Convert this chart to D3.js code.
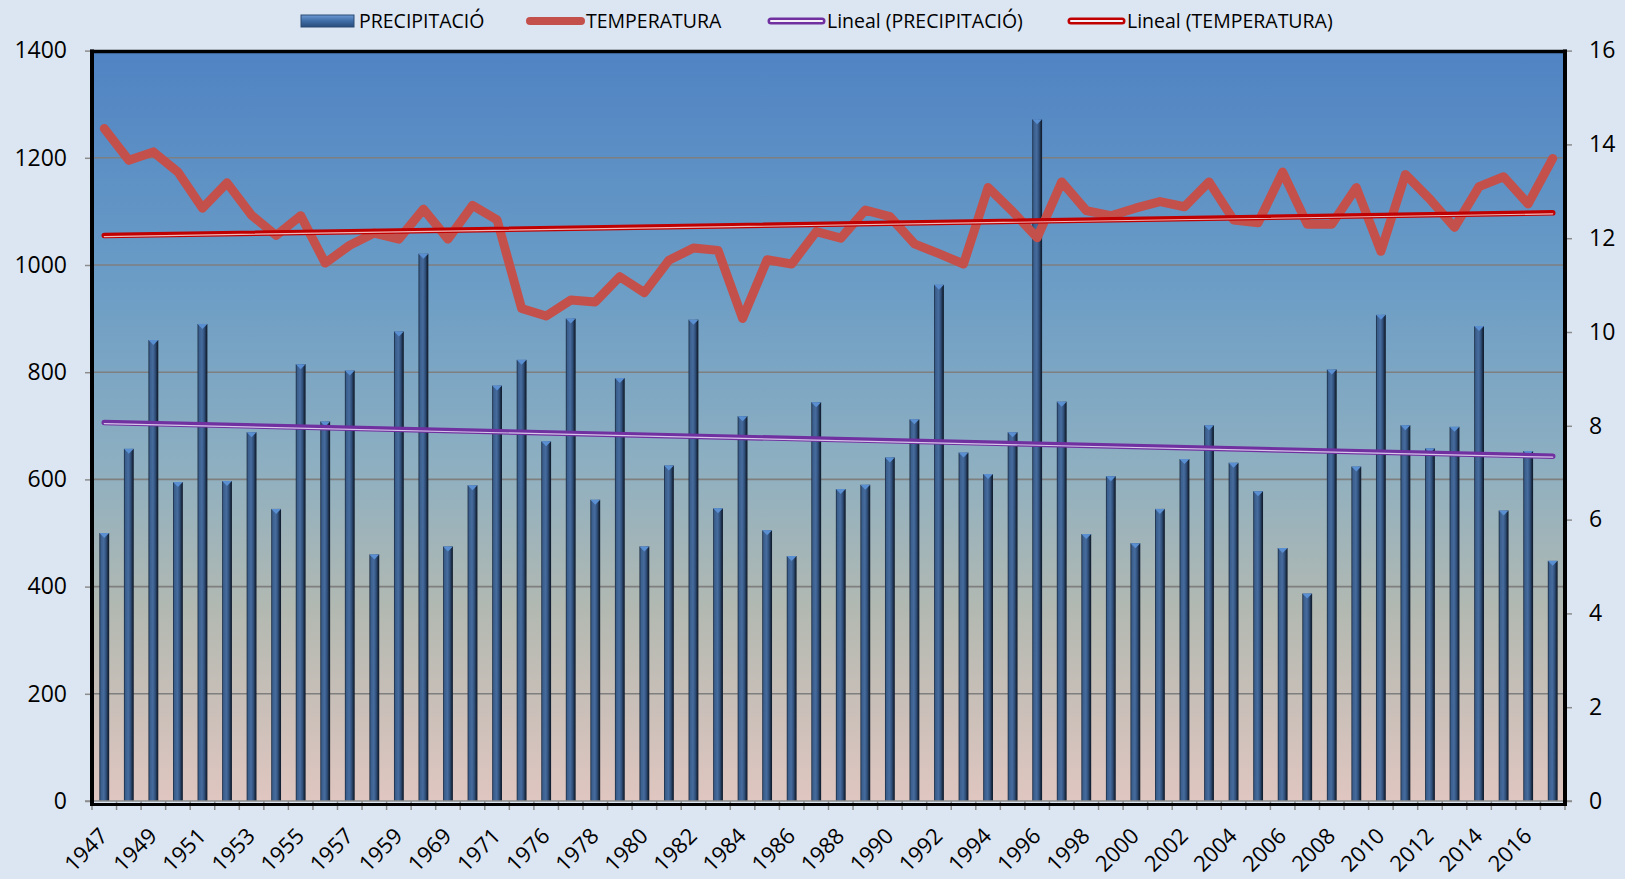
<!DOCTYPE html>
<html>
<head>
<meta charset="utf-8">
<script src="https://cdnjs.cloudflare.com/ajax/libs/d3/7.8.5/d3.min.js"></script>
<style>
  html, body { margin: 0; padding: 0; background: #dce6f2; }
  svg { display: block; font-family: "Open Sans", "DejaVu Sans", sans-serif; }
</style>
</head>
<body>
<div id="chart"></div>
<script>
// --- data ---
const years = [
  "1947","1948","1949","1950","1951","1952","1953","1954","1955","1956",
  "1957","1958","1959","1960","1969","1970","1971","1975","1976","1977",
  "1978","1979","1980","1981","1982","1983","1984","1985","1986","1987",
  "1988","1989","1990","1991","1992","1993","1994","1995","1996","1997",
  "1998","1999","2000","2001","2002","2003","2004","2005","2006","2007",
  "2008","2009","2010","2011","2012","2013","2014","2015","2016","2017"
];

const precipitacio = [
  500, 657, 860, 595, 890, 597, 688, 545, 815, 708,
  803, 460, 876, 1021, 475, 589, 775, 823, 671, 900,
  562, 789, 475, 626, 898, 546, 718, 505, 457, 744,
  582, 590, 641, 712, 963, 650, 610, 688, 1272, 745,
  498, 606, 481, 545, 638, 701, 631, 578, 472, 387,
  805, 624, 907, 701, 658, 698, 886, 542, 653, 448
];

const temperatura = [
  14.34, 13.66, 13.84, 13.41, 12.64, 13.18, 12.49, 12.06, 12.48, 11.47,
  11.85, 12.11, 11.98, 12.62, 11.98, 12.70, 12.39, 10.50, 10.34, 10.68,
  10.64, 11.18, 10.84, 11.53, 11.79, 11.74, 10.29, 11.54, 11.45, 12.14,
  12.00, 12.60, 12.46, 11.88, 11.67, 11.45, 13.08, 12.57, 12.01, 13.20,
  12.59, 12.48, 12.64, 12.78, 12.67, 13.20, 12.39, 12.33, 13.41, 12.30,
  12.30, 13.08, 11.72, 13.36, 12.83, 12.23, 13.10, 13.31, 12.73, 13.70
];

const leftTicks = [0, 200, 400, 600, 800, 1000, 1200, 1400];
const rightTicks = [0, 2, 4, 6, 8, 10, 12, 14, 16];
const legendNames = ["PRECIPITACIÓ", "TEMPERATURA", "Lineal (PRECIPITACIÓ)", "Lineal (TEMPERATURA)"];

// --- layout ---
const W = 1625, H = 879;
const plot = { left: 92, right: 1565, top: 50.6, bottom: 801 };

// least squares trend, like the Excel "Lineal" trendline
function linearFit(values) {
  const n = values.length;
  const xs = d3.range(n);
  const mx = d3.mean(xs), my = d3.mean(values);
  let sxy = 0, sxx = 0;
  xs.forEach((x, i) => { sxy += (x - mx) * (values[i] - my); sxx += (x - mx) * (x - mx); });
  const b = sxy / sxx, a = my - b * mx;
  return [0, n - 1].map(i => ({ i, v: a + b * i }));
}

function drawChart() {
  const svg = d3.select("#chart").append("svg")
    .attr("width", W).attr("height", H)
    .style("background", "#dce6f2");

  const defs = svg.append("defs");
  const bg = defs.append("linearGradient").attr("id", "plotBg")
    .attr("x1", 0).attr("y1", 0).attr("x2", 0).attr("y2", 1);
  [[0, "#4f83c3"], [0.3, "#6a9cc6"], [0.55, "#8dafc1"], [0.75, "#b3b9b1"], [1, "#e0c6c0"]]
    .forEach(([o, c]) => bg.append("stop").attr("offset", o).attr("stop-color", c));

  const barGrad = defs.append("linearGradient").attr("id", "barGrad")
    .attr("x1", 0).attr("y1", 0).attr("x2", 1).attr("y2", 0);
  [[0, "#16253a"], [0.15, "#3a5e8c"], [0.45, "#466c9e"], [0.7, "#2f4e78"], [0.85, "#1c2e47"], [1, "#0e1828"]]
    .forEach(([o, c]) => barGrad.append("stop").attr("offset", o).attr("stop-color", c));

  const legGrad = defs.append("linearGradient").attr("id", "legGrad")
    .attr("x1", 0).attr("y1", 0).attr("x2", 0).attr("y2", 1);
  [[0, "#6d9ad3"], [0.5, "#3f6da6"], [1, "#2a4c7a"]]
    .forEach(([o, c]) => legGrad.append("stop").attr("offset", o).attr("stop-color", c));

  // scales
  const x = d3.scaleBand().domain(years)
    .range([plot.left, plot.right]).paddingInner(0.6).paddingOuter(0.3);
  const xc = i => x(years[i]) + x.bandwidth() / 2;
  const yL = d3.scaleLinear().domain([0, 1400]).range([plot.bottom, plot.top]);
  const yR = d3.scaleLinear().domain([0, 16]).range([plot.bottom, plot.top]);

  // plot background
  svg.append("rect")
    .attr("x", plot.left).attr("y", plot.top)
    .attr("width", plot.right - plot.left).attr("height", plot.bottom - plot.top)
    .attr("fill", "url(#plotBg)");

  // gridlines
  svg.append("g").selectAll("line").data(leftTicks.slice(1, -1)).join("line")
    .attr("x1", plot.left).attr("x2", plot.right)
    .attr("y1", d => yL(d)).attr("y2", d => yL(d))
    .attr("stroke", "#7f7f7f").attr("stroke-width", 1.6);

  // bars
  const bars = svg.append("g");
  bars.selectAll("rect").data(precipitacio).join("rect")
    .attr("x", (d, i) => x(years[i]))
    .attr("y", d => yL(d))
    .attr("width", x.bandwidth())
    .attr("height", d => yL(0) - yL(d))
    .attr("fill", "url(#barGrad)");
  bars.selectAll("polygon").data(precipitacio).join("polygon")
    .attr("points", (d, i) => {
      const l = x(years[i]), r = l + x.bandwidth(), t = yL(d);
      return `${l},${t} ${r},${t} ${(l + r) / 2},${t + 5}`;
    })
    .attr("fill", "#5a8fd2");

  // temperature line
  const tLine = d3.line().x((d, i) => xc(i)).y(d => yR(d));
  svg.append("path").datum(temperatura)
    .attr("d", tLine)
    .attr("fill", "none")
    .attr("stroke", "#c4504c")
    .attr("stroke-width", 9)
    .attr("stroke-linejoin", "round")
    .attr("stroke-linecap", "round");

  // trend lines (double line look)
  const trendLine = scale => d3.line().x(d => xc(d.i)).y(d => scale(d.v));
  const pTrend = linearFit(precipitacio);
  const tTrend = linearFit(temperatura);
  [[pTrend, yL, "#7030a0", "#d7c6ea"], [tTrend, yR, "#c00000", "#f2b8b8"]].forEach(([pts, sc, col, inner]) => {
    svg.append("path").datum(pts).attr("d", trendLine(sc))
      .attr("fill", "none").attr("stroke", col).attr("stroke-width", 5.5)
      .attr("stroke-linecap", "round");
    svg.append("path").datum(pts).attr("d", trendLine(sc))
      .attr("transform", "translate(0,1)")
      .attr("fill", "none").attr("stroke", inner).attr("stroke-width", 1.2)
      .attr("stroke-linecap", "round");
  });

  // left axis
  const axL = svg.append("g").attr("transform", `translate(${plot.left},0)`)
    .call(d3.axisLeft(yL).tickValues(leftTicks).tickFormat(d3.format("d")).tickSize(7).tickPadding(18));
  axL.select(".domain").remove();
  axL.selectAll(".tick line").attr("stroke", "#8c8c8c").attr("stroke-width", 1.5);
  axL.selectAll(".tick text").attr("font-size", 23).attr("fill", "#000")
    .attr("font-family", "'Open Sans', sans-serif");

  // right axis
  const axR = svg.append("g").attr("transform", `translate(${plot.right},0)`)
    .call(d3.axisRight(yR).tickValues(rightTicks).tickFormat(d3.format("d")).tickSize(7).tickPadding(17));
  axR.select(".domain").remove();
  axR.selectAll(".tick line").attr("stroke", "#8c8c8c").attr("stroke-width", 1.5);
  axR.selectAll(".tick text").attr("font-size", 23).attr("fill", "#000")
    .attr("font-family", "'Open Sans', sans-serif");

  // bottom axis: tick marks at category boundaries
  const step = x.step();
  const bottom = svg.append("g");
  bottom.append("line")
    .attr("x1", plot.left - 7).attr("x2", plot.right + 7)
    .attr("y1", plot.bottom).attr("y2", plot.bottom)
    .attr("stroke", "#8c8c8c").attr("stroke-width", 1.5);
  bottom.selectAll("line.tk").data(d3.range(years.length + 1)).join("line")
    .attr("class", "tk")
    .attr("x1", i => plot.left + i * step).attr("x2", i => plot.left + i * step)
    .attr("y1", plot.bottom).attr("y2", plot.bottom + 9)
    .attr("stroke", "#8c8c8c").attr("stroke-width", 1.5);
  bottom.selectAll("text").data(years.filter((d, i) => i % 2 === 0)).join("text")
    .attr("transform", d => `translate(${x(d) + x.bandwidth() / 2 - 0.5},832) rotate(-45)`)
    .attr("text-anchor", "end")
    .attr("dy", "0.35em")
    .attr("font-size", 22)
    .attr("fill", "#000")
    .text(d => d);

  // frame
  const frame = svg.append("g").attr("stroke", "#000");
  frame.append("line").attr("x1", plot.left - 2).attr("x2", plot.right + 2)
    .attr("y1", plot.top + 1).attr("y2", plot.top + 1).attr("stroke-width", 3.5);
  frame.append("line").attr("x1", plot.left).attr("x2", plot.left)
    .attr("y1", plot.top - 1).attr("y2", plot.bottom + 5).attr("stroke-width", 4);
  frame.append("line").attr("x1", plot.right).attr("x2", plot.right)
    .attr("y1", plot.top - 1).attr("y2", plot.bottom + 5).attr("stroke-width", 4);
  frame.append("line").attr("x1", plot.left).attr("x2", plot.right)
    .attr("y1", plot.bottom + 3.5).attr("y2", plot.bottom + 3.5).attr("stroke-width", 3);

  // legend
  const legX = [301, 526, 767, 1067];
  const legY = 21;
  const leg = svg.append("g");
  legendNames.forEach((name, k) => {
    const g = leg.append("g").attr("transform", `translate(${legX[k]},${legY})`);
    if (k === 0) {
      g.append("rect").attr("x", 0).attr("y", -6).attr("width", 53).attr("height", 12)
        .attr("fill", "url(#legGrad)").attr("stroke", "#2a4a75").attr("stroke-width", 1);
    } else if (k === 1) {
      g.append("line").attr("x1", 4).attr("x2", 55).attr("y1", 0).attr("y2", 0)
        .attr("stroke", "#c4504c").attr("stroke-width", 8).attr("stroke-linecap", "round");
    } else {
      const col = k === 2 ? "#7030a0" : "#c00000";
      g.append("line").attr("x1", 4).attr("x2", 55).attr("y1", 0).attr("y2", 0)
        .attr("stroke", col).attr("stroke-width", 7).attr("stroke-linecap", "round");
      g.append("line").attr("x1", 4).attr("x2", 55).attr("y1", 0).attr("y2", 0)
        .attr("stroke", "#f4eef8").attr("stroke-width", 2).attr("stroke-linecap", "round");
    }
    g.append("text").attr("x", k === 0 ? 58 : 60).attr("y", 0).attr("dy", "0.35em")
      .attr("font-size", 19.5).attr("fill", "#000").text(name);
  });
}

document.addEventListener("DOMContentLoaded", drawChart);
</script>
</body>
</html>
